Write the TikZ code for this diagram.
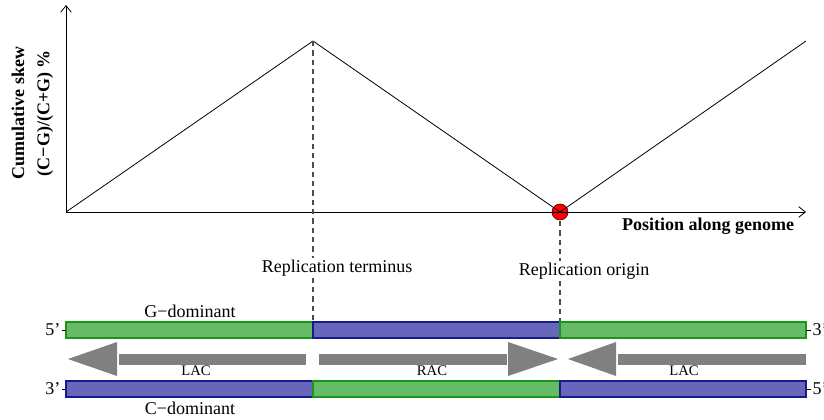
\documentclass[tikz,border=0pt]{standalone}
\usepackage{fontspec}
\setmainfont{Liberation Serif}
\usetikzlibrary{arrows.meta}
\definecolor{gdom}{RGB}{102,187,102}
\definecolor{gline}{RGB}{25,150,25}
\definecolor{cdom}{RGB}{102,102,187}
\definecolor{cline}{RGB}{25,25,140}
\definecolor{acgray}{RGB}{128,128,128}

\begin{document}
\begin{tikzpicture}[x=0.75pt,y=-0.75pt,
    lbl/.style={font=\fontsize{13.5}{15}\selectfont, inner sep=1pt},
    axlbl/.style={font=\fontsize{13.5}{15}\selectfont\bfseries, inner sep=1pt},
    arlbl/.style={font=\fontsize{11}{12}\selectfont, inner sep=1pt},
    gbar/.style={fill=gdom, draw=gline, line width=0.8pt},
    cbar/.style={fill=cdom, draw=cline, line width=0.8pt},
    guide/.style={gray!60!black, line width=0.8pt, dash pattern=on 4pt off 3pt},
    axis/.style={-{Straight Barb[length=5pt,width=8pt]}, line width=0.6pt}]
  \useasboundingbox (0,0) rectangle (824,419);

  % skew plot
  \coordinate (O) at (66,212);
  \coordinate (ymax) at (66,5);
  \coordinate (xmax) at (806,212);
  \coordinate (ter) at (313,41);
  \coordinate (ori) at (560,212);
  \coordinate (last) at (806,41);
  \fill[red, draw=black!70!red, line width=0.5pt] (ori) circle (8);
  \draw[axis] (O) -- (ymax);
  \draw[axis] (O) -- (xmax);
  \draw[line width=0.6pt] (O) -- (ter) -- (ori) -- (last);

  \node[axlbl, rotate=90] (ylabA) at (18,113) {Cumulative skew};
  \node[axlbl, rotate=90] (ylabB) at (45,113) {(C−G)/(C+G) \%};
  \node[axlbl] (xlab) at (708,226) {Position along genome};

  % replication sites
  \node[lbl] (terlab) at (337,268) {Replication terminus};
  \node[lbl] (orilab) at (584,271) {Replication origin};
  \coordinate (gtop) at (66,321);
  \draw[guide] (ter) -- (ter |- terlab.north);
  \draw[guide] (ter |- terlab.south) -- (ter |- gtop);
  \draw[guide] (560,221) -- (ori |- orilab.north);
  \draw[guide] (ori |- orilab.south) -- (ori |- gtop);

  % strands
  \path[gbar] (66,322) rectangle (313,338);
  \path[cbar] (313,322) rectangle (560,338);
  \path[gbar] (560,322) rectangle (806,338);
  \path[cbar] (66,381) rectangle (313,397);
  \path[gbar] (313,381) rectangle (560,397);
  \path[cbar] (560,381) rectangle (806,397);

  \node[lbl] (gdomlab) at (190,311) {G−dominant};
  \node[lbl] (cdomlab) at (190,408) {C−dominant};
  \node[lbl, anchor=east] (lfive) at (62,330) {5’};
  \node[lbl, anchor=east] (lthree) at (62,389) {3’};
  \node[lbl, anchor=west] (rthree) at (811,330) {3’};
  \node[lbl, anchor=west] (rfive) at (811,389) {5’};
  \draw[line width=0.5pt] (lfive.east) -- (66,330);
  \draw[line width=0.5pt] (lthree.east) -- (66,389);
  \draw[line width=0.5pt] (806,330) -- (rthree.west);
  \draw[line width=0.5pt] (806,389) -- (rfive.west);

  % leading arms
  \fill[acgray] (68,359) -- (117,342) -- (117,376) -- cycle;
  \fill[acgray] (119,354) rectangle (306,365);
  \fill[acgray] (319,354) rectangle (507,365);
  \fill[acgray] (558,359) -- (508,342) -- (508,376) -- cycle;
  \fill[acgray] (568,359) -- (616,342) -- (616,376) -- cycle;
  \fill[acgray] (618,354) rectangle (806,365);

  \node[arlbl] (lacA) at (196,371) {LAC};
  \node[arlbl] (rac) at (432,371) {RAC};
  \node[arlbl] (lacB) at (684,371) {LAC};
\end{tikzpicture}
\end{document}
